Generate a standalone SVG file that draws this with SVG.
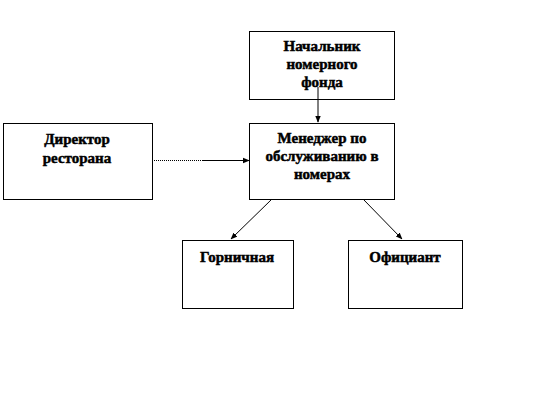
<svg xmlns="http://www.w3.org/2000/svg" width="548" height="410" viewBox="0 0 548 410">
<style>
.box{fill:#fff;stroke:#000;stroke-width:1}
.t{font-family:"Liberation Serif","Times New Roman",serif;font-weight:bold;font-size:15px;fill:#000;stroke:#000;stroke-width:0.5;text-anchor:middle}
.c{stroke:#000;stroke-width:1;fill:none}
</style>
<defs>
<marker id="ah" viewBox="0 0 10 10" refX="9" refY="5" markerWidth="7" markerHeight="7" orient="auto" markerUnits="userSpaceOnUse">
<path d="M0,1 L10,5 L0,9 Z" fill="#000"/>
</marker>
</defs>
<rect width="548" height="410" fill="#fff"/>
<g id="node-nachalnik">
<rect class="box" x="249.5" y="31.5" width="145" height="68"/>
<text class="t" x="322" y="51">Начальник</text>
<text class="t" x="322" y="69">номерного</text>
<text class="t" x="322" y="87">фонда</text>
</g>
<g id="node-manager">
<rect class="box" x="249.5" y="123.5" width="145" height="76"/>
<text class="t" x="322" y="143">Менеджер по</text>
<text class="t" x="322" y="161">обслуживанию в</text>
<text class="t" x="322" y="179">номерах</text>
</g>
<g id="node-director">
<rect class="box" x="3.5" y="123.5" width="149" height="76"/>
<text class="t" x="77" y="144">Директор</text>
<text class="t" x="77" y="163">ресторана</text>
</g>
<g id="node-gornichnaya">
<rect class="box" x="182.5" y="240.5" width="111" height="68"/>
<text class="t" x="237" y="262">Горничная</text>
</g>
<g id="node-oficiant">
<rect class="box" x="348.5" y="240.5" width="114" height="68"/>
<text class="t" x="405" y="262">Официант</text>
</g>
<g id="connectors">
<line class="c" x1="318" y1="87" x2="318" y2="122" marker-end="url(#ah)"/>
<line class="c" x1="152" y1="160.5" x2="203" y2="160.5" stroke-dasharray="1,1"/>
<line class="c" x1="203" y1="160.5" x2="249" y2="160.5" marker-end="url(#ah)"/>
<line class="c" x1="272" y1="199" x2="231" y2="239" marker-end="url(#ah)"/>
<line class="c" x1="363" y1="199" x2="402" y2="239" marker-end="url(#ah)"/>
</g>
</svg>
